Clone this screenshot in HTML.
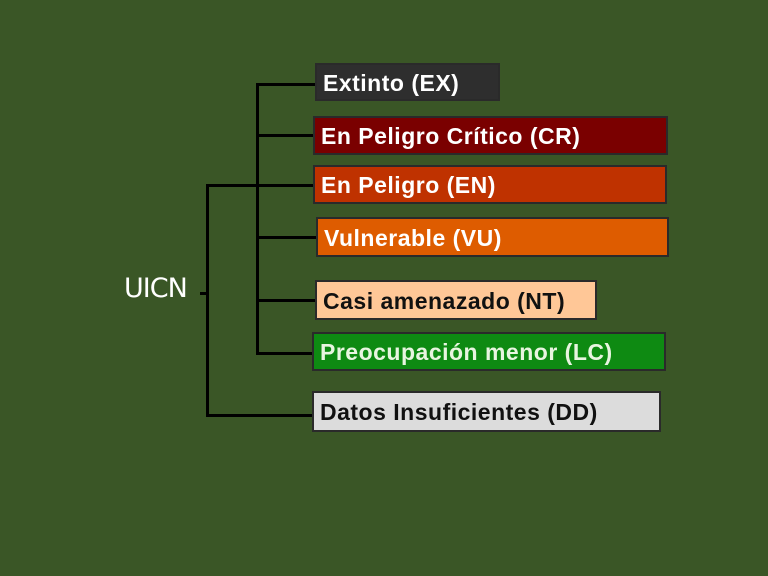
<!DOCTYPE html>
<html><head><meta charset="utf-8"><style>
body{margin:0;width:768px;height:576px;background:#3a5626;position:relative;overflow:hidden;font-family:"Liberation Sans",Arial,sans-serif}
.l{position:absolute;background:#000}
.b{position:absolute;box-sizing:border-box;border:2px solid #2a2a2a;font-weight:bold;font-size:23px;letter-spacing:0.5px;padding-left:6px;padding-top:2px;display:flex;align-items:center;color:#fff;white-space:nowrap}
</style></head><body>
<div style="position:absolute;left:124px;top:273px;font-size:27px;color:#fff;font-family:'DejaVu Sans','Liberation Sans',sans-serif;letter-spacing:-1px">UICN</div>
<div class="l" style="left:200px;top:292px;width:8px;height:3px"></div>
<div class="l" style="left:206px;top:184px;width:3px;height:233px"></div>
<div class="l" style="left:206px;top:184px;width:108px;height:3px"></div>
<div class="l" style="left:206px;top:414px;width:108px;height:3px"></div>
<div class="l" style="left:256px;top:83px;width:3px;height:272px"></div>
<div class="l" style="left:256px;top:83px;width:60px;height:3px"></div>
<div class="l" style="left:256px;top:134px;width:58px;height:3px"></div>
<div class="l" style="left:256px;top:236px;width:60px;height:3px"></div>
<div class="l" style="left:256px;top:299px;width:60px;height:3px"></div>
<div class="l" style="left:256px;top:352px;width:58px;height:3px"></div>
<div class="b" style="left:315px;top:63px;width:185px;height:38px;background:#2e2e2e">Extinto (EX)</div>
<div class="b" style="left:313px;top:116px;width:355px;height:39px;background:#7a0000">En Peligro Crítico (CR)</div>
<div class="b" style="left:313px;top:165px;width:354px;height:39px;background:#bf3200">En Peligro (EN)</div>
<div class="b" style="left:316px;top:217px;width:353px;height:40px;background:#de5c00">Vulnerable (VU)</div>
<div class="b" style="left:315px;top:280px;width:282px;height:40px;background:#ffc797;color:#111">Casi amenazado (NT)</div>
<div class="b" style="left:312px;top:332px;width:354px;height:39px;background:#0e8a12;color:#e8f5e0">Preocupación menor (LC)</div>
<div class="b" style="left:312px;top:391px;width:349px;height:41px;background:#dcdcdc;color:#111">Datos Insuficientes (DD)</div>
</body></html>
